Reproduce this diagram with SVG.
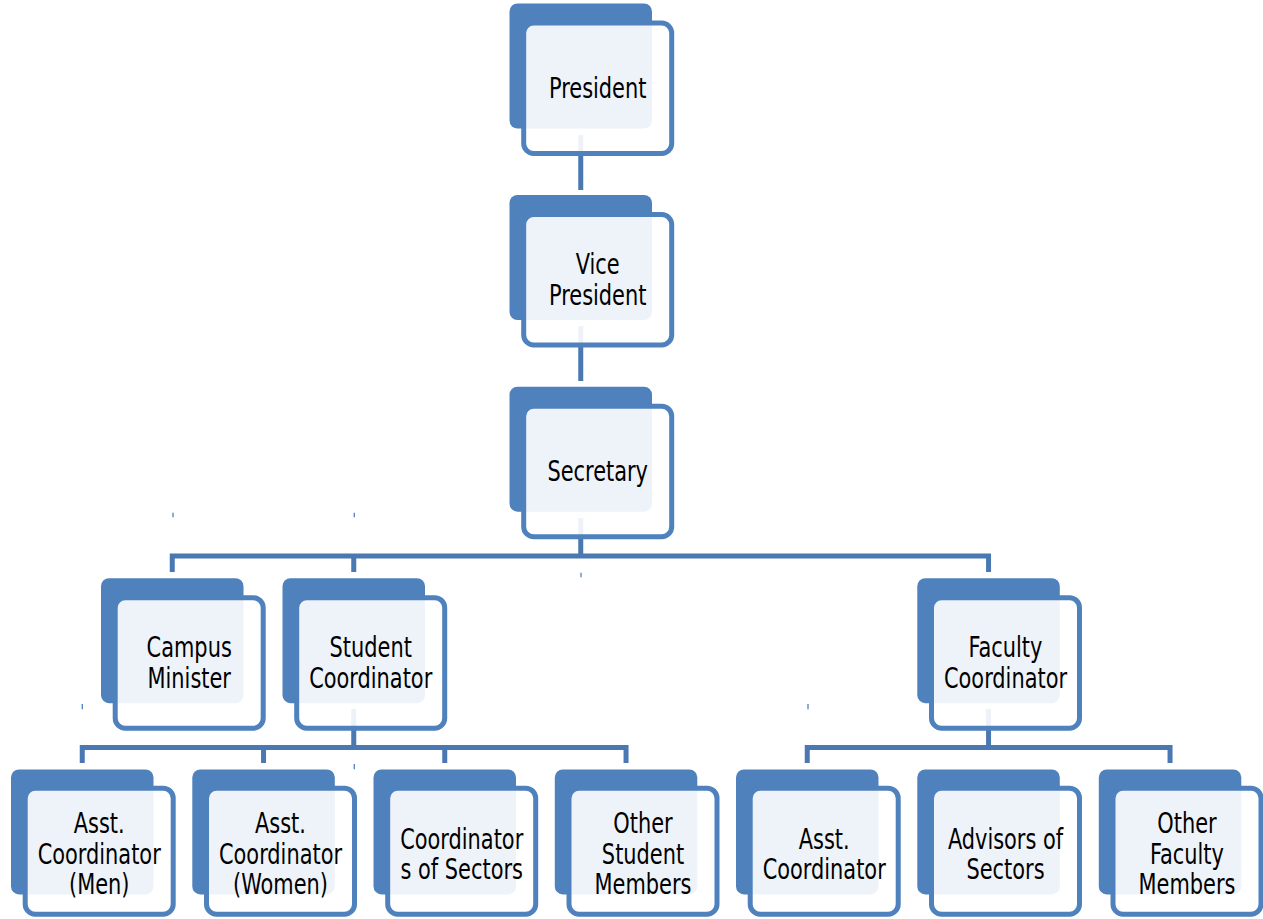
<svg xmlns="http://www.w3.org/2000/svg" width="1263" height="919" viewBox="0 0 1263 919">
<style>
.bk{fill:#4F81BD}
.fr{fill:#FFFFFF;fill-opacity:0.9;stroke:#4F81BD;stroke-width:5}
.lb{font-family:"DejaVu Sans Condensed","DejaVu Sans",sans-serif;font-stretch:condensed;font-size:28px;fill:#000;text-anchor:middle}
.cn{fill:none;stroke:#4A79B2;stroke-width:5;stroke-linejoin:miter}
.tk{stroke:#4F81BD;stroke-width:1.3}
</style>
<rect width="1263" height="919" fill="#FFFFFF"/>
<g id="connectors">
<path class="cn" d="M580.75 135 V190"/>
<path class="cn" d="M580.75 326 V381"/>
<path class="cn" d="M580.75 518 V556 M172.25 572 V556 H988.55 V572 M353.75 556 V572"/>
<path class="cn" d="M353.75 709 V747.5 M82.25 763 V747.5 H626.05 V763 M263.55 747.5 V763 M444.75 747.5 V763"/>
<path class="cn" d="M988.55 709 V747.5 M807.25 763 V747.5 H1170.05 V763"/>
<path class="tk" d="M173 512.7 V517.3 M354.3 512.7 V517.3 M581 572.7 V577.3 M82.3 704 V709.3 M354.3 764 V769.3 M808 704 V709.3"/>
</g>
<g id="president">
<rect class="bk" x="509.5" y="3.5" width="142.5" height="125" rx="8"/>
<rect class="fr" x="523.7" y="23" width="148" height="130.5" rx="10"/>
<text class="lb" transform="translate(597.7 97.9) scale(0.83 1)"><tspan x="0" y="0">President</tspan></text>
</g>
<g id="vice-president">
<rect class="bk" x="509.5" y="195" width="142.5" height="125" rx="8"/>
<rect class="fr" x="523.7" y="214.5" width="148" height="130.5" rx="10"/>
<text class="lb" transform="translate(597.7 274.15) scale(0.83 1)"><tspan x="0" y="0">Vice</tspan><tspan x="0" y="30.5">President</tspan></text>
</g>
<g id="secretary">
<rect class="bk" x="509.5" y="386.7" width="142.5" height="125" rx="8"/>
<rect class="fr" x="523.7" y="406.2" width="148" height="130.5" rx="10"/>
<text class="lb" transform="translate(597.7 481.1) scale(0.83 1)"><tspan x="0" y="0">Secretary</tspan></text>
</g>
<g id="campus-minister">
<rect class="bk" x="101" y="578.2" width="142.5" height="125" rx="8"/>
<rect class="fr" x="115.2" y="597.7" width="148" height="130.5" rx="10"/>
<text class="lb" transform="translate(189.2 657.35) scale(0.83 1)"><tspan x="0" y="0">Campus</tspan><tspan x="0" y="30.5">Minister</tspan></text>
</g>
<g id="student-coordinator">
<rect class="bk" x="282.5" y="578.2" width="142.5" height="125" rx="8"/>
<rect class="fr" x="296.7" y="597.7" width="148" height="130.5" rx="10"/>
<text class="lb" transform="translate(370.7 657.35) scale(0.83 1)"><tspan x="0" y="0">Student</tspan><tspan x="0" y="30.5">Coordinator</tspan></text>
</g>
<g id="faculty-coordinator">
<rect class="bk" x="917.3" y="578.2" width="142.5" height="125" rx="8"/>
<rect class="fr" x="931.5" y="597.7" width="148" height="130.5" rx="10"/>
<text class="lb" transform="translate(1005.5 657.35) scale(0.83 1)"><tspan x="0" y="0">Faculty</tspan><tspan x="0" y="30.5">Coordinator</tspan></text>
</g>
<g id="asst-coordinator-men">
<rect class="bk" x="11" y="769.4" width="142.5" height="125" rx="8"/>
<rect class="fr" x="25.2" y="788.2" width="148" height="126" rx="10"/>
<text class="lb" transform="translate(99.2 833.3) scale(0.83 1)"><tspan x="0" y="0">Asst.</tspan><tspan x="0" y="30.5">Coordinator</tspan><tspan x="0" y="61">(Men)</tspan></text>
</g>
<g id="asst-coordinator-women">
<rect class="bk" x="192.3" y="769.4" width="142.5" height="125" rx="8"/>
<rect class="fr" x="206.5" y="788.2" width="148" height="126" rx="10"/>
<text class="lb" transform="translate(280.5 833.3) scale(0.83 1)"><tspan x="0" y="0">Asst.</tspan><tspan x="0" y="30.5">Coordinator</tspan><tspan x="0" y="61">(Women)</tspan></text>
</g>
<g id="coordinators-of-sectors">
<rect class="bk" x="373.5" y="769.4" width="142.5" height="125" rx="8"/>
<rect class="fr" x="387.7" y="788.2" width="148" height="126" rx="10"/>
<text class="lb" transform="translate(461.7 848.55) scale(0.83 1)"><tspan x="0" y="0">Coordinator</tspan><tspan x="0" y="30.5">s of Sectors</tspan></text>
</g>
<g id="other-student-members">
<rect class="bk" x="554.8" y="769.4" width="142.5" height="125" rx="8"/>
<rect class="fr" x="569" y="788.2" width="148" height="126" rx="10"/>
<text class="lb" transform="translate(643 833.3) scale(0.83 1)"><tspan x="0" y="0">Other</tspan><tspan x="0" y="30.5">Student</tspan><tspan x="0" y="61">Members</tspan></text>
</g>
<g id="asst-coordinator">
<rect class="bk" x="736" y="769.4" width="142.5" height="125" rx="8"/>
<rect class="fr" x="750.2" y="788.2" width="148" height="126" rx="10"/>
<text class="lb" transform="translate(824.2 848.55) scale(0.83 1)"><tspan x="0" y="0">Asst.</tspan><tspan x="0" y="30.5">Coordinator</tspan></text>
</g>
<g id="advisors-of-sectors">
<rect class="bk" x="917.3" y="769.4" width="142.5" height="125" rx="8"/>
<rect class="fr" x="931.5" y="788.2" width="148" height="126" rx="10"/>
<text class="lb" transform="translate(1005.5 848.55) scale(0.83 1)"><tspan x="0" y="0">Advisors of</tspan><tspan x="0" y="30.5">Sectors</tspan></text>
</g>
<g id="other-faculty-members">
<rect class="bk" x="1098.8" y="769.4" width="142.5" height="125" rx="8"/>
<rect class="fr" x="1113" y="788.2" width="148" height="126" rx="10"/>
<text class="lb" transform="translate(1187 833.3) scale(0.83 1)"><tspan x="0" y="0">Other</tspan><tspan x="0" y="30.5">Faculty</tspan><tspan x="0" y="61">Members</tspan></text>
</g>
</svg>
